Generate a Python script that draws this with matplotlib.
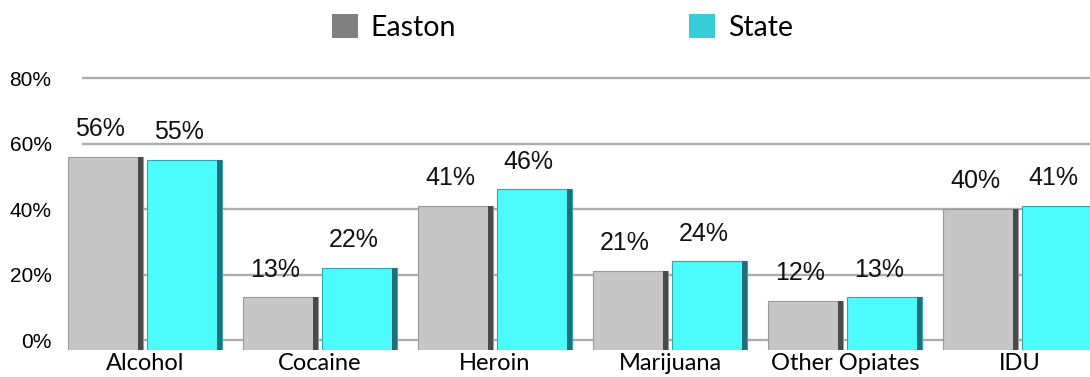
import matplotlib.pyplot as plt
import numpy as np
from matplotlib.patches import Patch

# Data
categories = ['Alcohol', 'Cocaine', 'Heroin', 'Marijuana', 'Other Opiates', 'IDU']
easton = [56, 13, 41, 21, 12, 40]
state = [55, 22, 46, 24, 13, 41]
y_ticks = [0, 20, 40, 60, 80]
series_names = ['Easton', 'State']

fig = plt.figure(figsize=(10.9, 3.77), dpi=100)
ax = fig.add_axes([0.055, 0.0716, 0.945, 0.7692])

x = np.arange(len(categories))
w = 0.43
off = 0.225
base = -3  # bars sit a little below the floor line, like the 3D original

# gridlines
ax.hlines(y_ticks, -0.36, 5.5, colors='#adadad', linewidth=1.7, zorder=0)

def draw_series(pos, vals, face, side, edge):
    vals = np.array(vals)
    ax.bar(pos, vals - base, w, bottom=base, color=face, edgecolor=edge,
           linewidth=0.8, zorder=2)
    # darker side face on the right of each bar
    ax.bar(pos + w / 2 - 0.015, vals - base, 0.03, bottom=base, color=side,
           linewidth=0, zorder=3)
    for xi, v in zip(pos, vals):
        ax.annotate(f'{v}%', (xi, v), xytext=(-4, 20), textcoords='offset points',
                    ha='center', va='center', fontsize=18,
                    family='Liberation Sans', color='#111111', zorder=4)

draw_series(x - off, easton, '#c6c6c6', '#4a4a4a', '#9a9a9a')
draw_series(x + off, state, '#4cfcfc', '#236f78', '#2aa8b0')

ax.set_xlim(-0.486, 5.4)
ax.set_ylim(-3.05, 85.5)
ax.set_yticks(y_ticks)
ax.set_yticklabels([f'{t}%' for t in y_ticks], family='Liberation Sans', fontsize=15)
ax.set_xticks(x)
ax.set_xticklabels(categories, family='Lato', fontsize=17)
ax.tick_params(axis='both', length=0)
ax.tick_params(axis='x', pad=2.5)
ax.tick_params(axis='y', pad=6)
for s in ax.spines.values():
    s.set_visible(False)

handles = [Patch(facecolor='#808080'), Patch(facecolor='#36cdd8')]
leg = fig.legend(handles, series_names, loc='center', bbox_to_anchor=(0.516, 0.928),
                 ncol=2, frameon=False, columnspacing=8.2, handlelength=0.91,
                 handleheight=0.91, handletextpad=0.45,
                 prop={'family': 'Lato', 'size': 20.5})

fig.savefig('out.png', dpi=100)
